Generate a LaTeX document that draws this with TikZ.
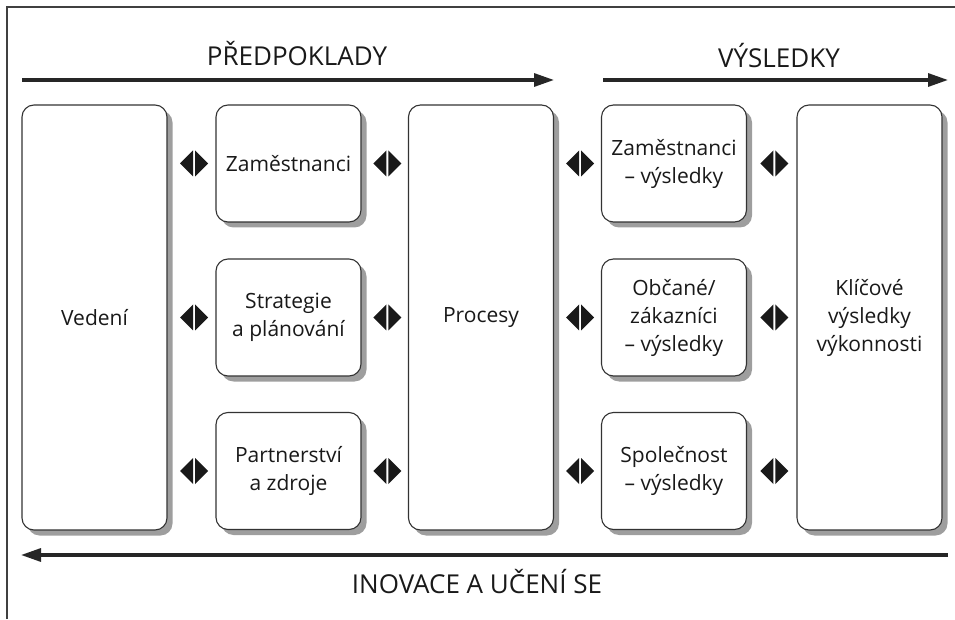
\documentclass[tikz,border=0pt]{standalone}
\usepackage{fontspec}
\setmainfont{Open Sans}
\usetikzlibrary{arrows.meta,shadows,calc}
\begin{document}
\begin{tikzpicture}[x=1pt,y=1pt,
  box/.style={draw=black!80, line width=1.1pt, fill=white, rounded corners=12pt,
    align=center, inner sep=0pt, minimum width=145pt,
    font=\fontsize{21}{28}\selectfont, text=black!90,
    drop shadow={shadow xshift=5.5pt,shadow yshift=-5.5pt,fill=black!38,opacity=1}},
  tallbox/.style={box, minimum height=425pt},
  smallbox/.style={box, minimum height=117pt},
  flowarrow/.style={line width=3.2pt, black!85, -{Triangle[length=20pt,width=13pt]}},
  title/.style={font=\fontsize{26}{30}\selectfont, text=black!90, inner sep=0pt},
  frameline/.style={line width=1.8pt, black!75},
  dia/.pic={
    \fill[black!90] (-1,0) -- (-1,13) -- (-14,0) -- (-1,-13) -- cycle;
    \fill[black!90] (1,0) -- (1,13) -- (14,0) -- (1,-13) -- cycle;
  }
]
\useasboundingbox (0,0) rectangle (955,619);
% frame
\coordinate (fc) at (7,612);
\coordinate (fb) at (7,0);
\coordinate (fr) at (955,612);
\draw[frameline] (fb) -- (fc) -- (fr);

% titles and arrows
\node[title] (pred) at (297,565) {PŘEDPOKLADY};
\node[title] (vysl) at (779,563) {VÝSLEDKY};
\node[title] (inov) at (477,37) {INOVACE A UČENÍ SE};
\coordinate (a1s) at (22,539);
\coordinate (a1e) at (554,539);
\coordinate (a2s) at (603,539);
\coordinate (a2e) at (948,539);
\coordinate (a3s) at (948,64);
\coordinate (a3e) at (21,64);
\draw[flowarrow] (a1s) -- (a1e);
\draw[flowarrow] (a2s) -- (a2e);
\draw[flowarrow] (a3s) -- (a3e);

% boxes
\node[tallbox] (ved) at (94.5,301.5) {Vedení};
\node[smallbox] (zam) at (288.5,455.5) {Zaměstnanci};
\node[smallbox] (str) at (288.5,301.5) {Strategie\\a plánování};
\node[smallbox] (par) at (288.5,148) {Partnerství\\a zdroje};
\node[tallbox] (pro) at (481,301.5) {Procesy};
\node[smallbox] (zvy) at (674,455.5) {Zaměstnanci\\– výsledky};
\node[smallbox] (obc) at (674,301.5) {Občané/\\zákazníci\\– výsledky};
\node[smallbox] (spo) at (674,148) {Společnost\\– výsledky};
\node[tallbox] (kli) at (869.5,301.5) {Klíčové\\výsledky\\výkonnosti};

% two-way connectors
\foreach \l/\r in {ved/zam,ved/str,ved/par}
  \pic at ($(\l.east |- \r.west)!0.5!(\r.west)+(2.5,0)$) {dia};
\foreach \l/\r in {zam/pro,str/pro,par/pro}
  \pic at ($(\l.east)!0.5!(\r.west |- \l.east)+(2.5,0)$) {dia};
\foreach \l/\r in {pro/zvy,pro/obc,pro/spo}
  \pic at ($(\l.east |- \r.west)!0.5!(\r.west)+(2.5,0)$) {dia};
\foreach \l/\r in {zvy/kli,obc/kli,spo/kli}
  \pic at ($(\l.east)!0.5!(\r.west |- \l.east)+(2.5,0)$) {dia};
\end{tikzpicture}
\end{document}
